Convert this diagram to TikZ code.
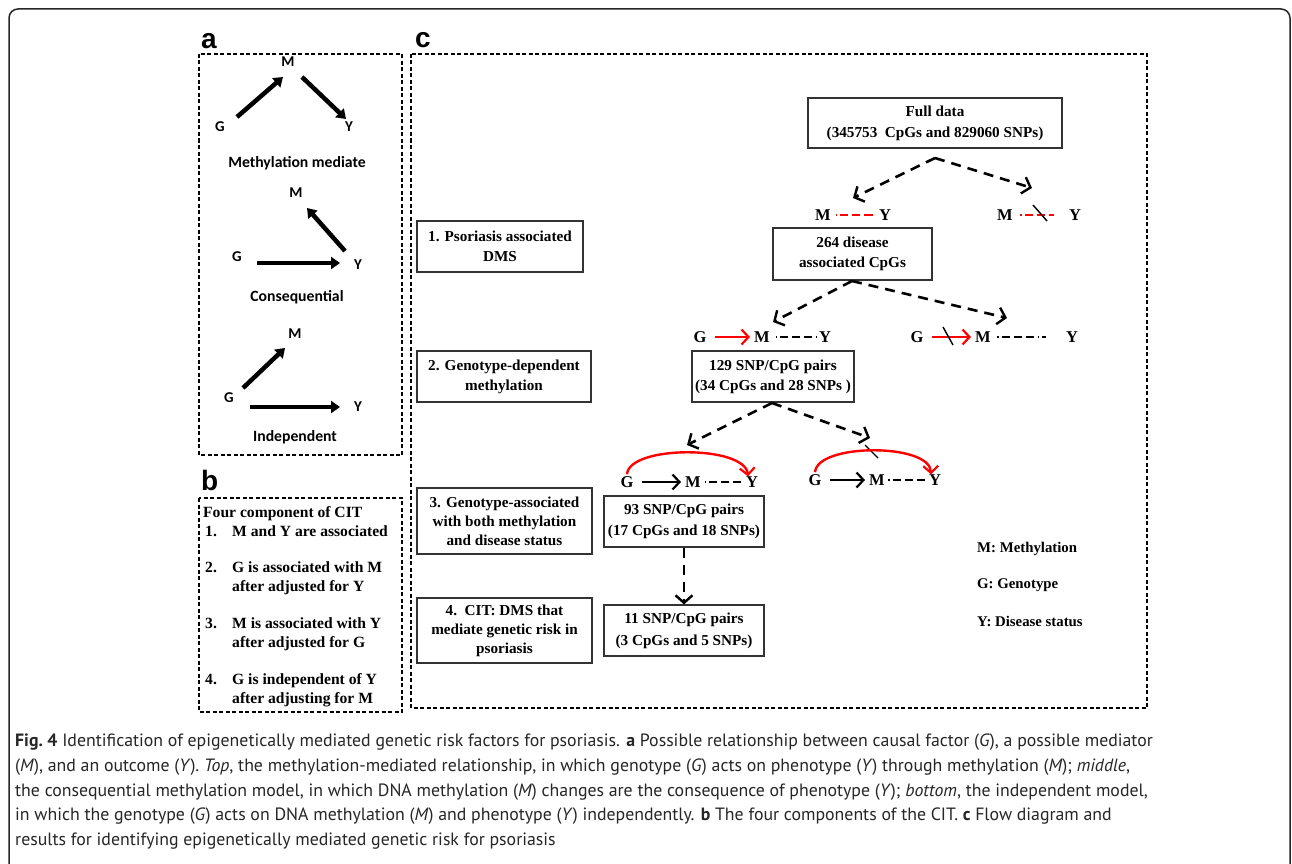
\documentclass[tikz,border=0pt]{standalone}
\usepackage{fontspec}
\setmainfont{Liberation Serif}
\newfontfamily\calib{Carlito}
\newfontfamily\capfont{PT Sans}
\newfontfamily\labfont{Liberation Sans}
\usetikzlibrary{arrows.meta,calc}
\begin{document}
\begin{tikzpicture}[x=1pt,y=-1pt,
  panelbox/.style={draw=black, line width=1.3pt, dash pattern=on 4pt off 2.5pt},
  fbox/.style={draw=black!80, line width=1.2pt, rectangle, inner sep=0pt, align=center,
    font=\bfseries\fontsize{15.2}{20}\selectfont},
  lab/.style={font=\labfont\bfseries\fontsize{28}{28}\selectfont, anchor=base west, inner sep=0pt},
  alet/.style={font=\calib\bfseries\fontsize{15}{16}\selectfont, inner sep=0pt},
  atxt/.style={font=\calib\bfseries\fontsize{15.7}{16}\selectfont, inner sep=0pt},
  thickarr/.style={line width=4.5pt, -{Triangle[length=9pt,width=12pt]}, shorten >=0pt},
  cl/.style={font=\bfseries\fontsize{16.5}{18}\selectfont, inner sep=0pt},
  flowarr/.style={line width=2.6pt, dash pattern=on 10pt off 7pt, -{Straight Barb[length=7.5pt,width=17pt,line width=2.4pt]}},
  redarr/.style={red, line width=2.4pt, -{Straight Barb[length=7pt,width=15pt,line width=2.2pt]}},
  blkarr/.style={black, line width=2.4pt, -{Straight Barb[length=7pt,width=15pt,line width=2.2pt]}},
  reddash/.style={red, line width=2.2pt, dash pattern=on 1.5pt off 3pt on 8pt off 4pt on 8pt off 4pt on 8pt off 4pt},
  blkdash/.style={black, line width=2.2pt, dash pattern=on 1.5pt off 3pt on 8pt off 4pt on 8pt off 4pt on 8pt off 4pt},
  slash/.style={black, line width=1.4pt},
  btxt/.style={font=\bfseries\fontsize{15.6}{18}\selectfont, anchor=base west, inner sep=0pt},
  legtxt/.style={font=\bfseries\fontsize{14.8}{18}\selectfont, anchor=base west, inner sep=0pt},
  captxt/.style={font=\capfont\fontsize{17.8}{24.7}\selectfont, anchor=north west, inner sep=0pt, align=left, text=black!85}
]
\useasboundingbox (0,0) rectangle (1292,864);
\clip (0,0) rectangle (1292,864);
\fill[white] (0,0) rectangle (1292,864);
% outer frame
\draw[line width=1.5pt, black!85, rounded corners=9pt] (9,9) rectangle (1290,920);

% ---------------- panel a ----------------
\node[lab] (la) at (201,49) {a};
\draw[panelbox] (199,54) rectangle (402,455);
\node[alet] (aM1) at (288,62) {M};
\node[alet] (aG1) at (220,127) {G};
\node[alet] (aY1) at (349,127) {Y};
\coordinate (aG1e) at (237,117); \coordinate (aM1s) at (283,77);
\coordinate (aM1e) at (302,77); \coordinate (aY1s) at (346,119);
\draw[thickarr] (aG1e) -- (aM1s);
\draw[thickarr] (aM1e) -- (aY1s);
\node[atxt] (at1) at (297,163) {Methylation mediate};

\node[alet] (aM2) at (296,193) {M};
\node[alet] (aG2) at (237,257) {G};
\node[alet] (aY2) at (358,265) {Y};
\coordinate (aY2e) at (345,251); \coordinate (aM2s) at (307,208);
\coordinate (aG2e) at (257,263); \coordinate (aY2s) at (340,263);
\draw[thickarr] (aY2e) -- (aM2s);
\draw[thickarr] (aG2e) -- (aY2s);
\node[atxt] (at2) at (297,297) {Consequential};

\node[alet] (aM3) at (295,334) {M};
\node[alet] (aG3) at (229,398) {G};
\node[alet] (aY3) at (358,407) {Y};
\coordinate (aG3e) at (243,388); \coordinate (aM3s) at (285,348);
\coordinate (aG3f) at (250,407); \coordinate (aY3s) at (340,407);
\draw[thickarr] (aG3e) -- (aM3s);
\draw[thickarr] (aG3f) -- (aY3s);
\node[atxt] (at3) at (295,437) {Independent};

% ---------------- panel b ----------------
\node[lab] (lb) at (201,490) {b};
\draw[panelbox] (199,498) rectangle (402,712);
\node[btxt] (b0) at (203,517) {Four component of CIT};
\node[btxt] (b1n) at (205,536) {1.};
\node[btxt] (b1) at (232,536) {M and Y are associated};
\node[btxt] (b2n) at (205,572) {2.};
\node[btxt] (b2) at (232,572) {G is associated with M};
\node[btxt] (b2b) at (232,591) {after adjusted for Y};
\node[btxt] (b3n) at (205,628) {3.};
\node[btxt] (b3) at (232,628) {M is associated with Y};
\node[btxt] (b3b) at (232,647) {after adjusted for G};
\node[btxt] (b4n) at (205,684) {4.};
\node[btxt] (b4) at (232,684) {G is independent of Y};
\node[btxt] (b4b) at (232,703) {after adjusting for M};

% ---------------- panel c ----------------
\node[lab] (lc) at (415,48) {c};
\draw[panelbox] (411,54) rectangle (1147,708);

\node[fbox, minimum width=166pt, minimum height=51pt] (s1) at (500,246.5) {1. Psoriasis associated\\DMS};
\node[fbox, minimum width=174pt, minimum height=51pt] (s2) at (504,376.5) {2. Genotype-dependent\\methylation};
\node[fbox, minimum width=175pt, minimum height=66pt, font=\bfseries\fontsize{15.2}{19}\selectfont] (s3) at (504.5,521) {3. Genotype-associated\\with both methylation\\and disease status};
\node[fbox, minimum width=175pt, minimum height=65pt, font=\bfseries\fontsize{15.2}{19}\selectfont] (s4) at (504.5,630.5) {4.\ \ CIT: DMS that\\mediate genetic risk in\\psoriasis};

\node[fbox, minimum width=254pt, minimum height=50pt, font=\bfseries\fontsize{15.2}{21}\selectfont] (fd) at (935,123) {Full data\\(345753\ \ CpGs and 829060 SNPs)};
\node[fbox, minimum width=159pt, minimum height=52pt] (d264) at (852.5,254) {264 disease\\associated CpGs};
\node[fbox, minimum width=162pt, minimum height=51pt] (p129) at (773,376.5) {129 SNP/CpG pairs\\(34 CpGs and 28 SNPs )};
\node[fbox, minimum width=160pt, minimum height=51pt, font=\bfseries\fontsize{15.2}{21}\selectfont] (p93) at (684,521.5) {93 SNP/CpG pairs\\(17 CpGs and 18 SNPs)};
\node[fbox, minimum width=160pt, minimum height=51pt, font=\bfseries\fontsize{15.2}{22}\selectfont] (p11) at (684,630.5) {11 SNP/CpG pairs\\(3 CpGs and 5 SNPs)};

% level 1
\coordinate (fdA) at (935,158);
\coordinate (l1L) at (853,198);
\coordinate (l1R) at (1032,188);
\draw[flowarr] (fdA) -- (l1L);
\draw[flowarr] (fdA) -- (l1R);
\node[cl] (M1) at (823,215) {M};
\node[cl] (Y1) at (885,215) {Y};
\draw[reddash] ($(M1.east)+(5,0)$) -- ($(Y1.west)+(-6,0)$);
\node[cl] (M1r) at (1005,215) {M};
\node[cl] (Y1r) at (1075,215) {Y};
\coordinate (r1a) at (1020,215); \coordinate (r1b) at (1054,215);
\draw[reddash] (r1a) -- (r1b);
\coordinate (s1a) at (1033,205); \coordinate (s1b) at (1047,221);
\draw[slash] (s1a) -- (s1b);

% level 2
\coordinate (dA) at (852,281);
\coordinate (l2L) at (773,322);
\coordinate (l2R) at (1007,318);
\draw[flowarr] (dA) -- (l2L);
\draw[flowarr] (dA) -- (l2R);
\node[cl] (G2) at (700,337) {G};
\node[cl] (M2) at (762,337) {M};
\node[cl] (Y2) at (825,337) {Y};
\draw[redarr] ($(G2.east)+(8,0)$) -- ($(M2.west)+(-4,0)$);
\draw[blkdash] ($(M2.east)+(6,0)$) -- ($(Y2.west)+(-2,0)$);
\node[cl] (G2r) at (917,337) {G};
\node[cl] (M2r) at (983,337) {M};
\node[cl] (Y2r) at (1072,337) {Y};
\draw[redarr] ($(G2r.east)+(8,0)$) -- ($(M2r.west)+(-4,0)$);
\coordinate (s2a) at (943,327); \coordinate (s2b) at (953,345);
\draw[slash] (s2a) -- (s2b);
\draw[blkdash] ($(M2r.east)+(6,0)$) -- ($(Y2r.west)+(-20,0)$);

% level 3
\coordinate (pA) at (772,403);
\coordinate (l3L) at (687,445);
\coordinate (l3R) at (870,438);
\draw[flowarr] (pA) -- (l3L);
\draw[flowarr] (pA) -- (l3R);
\coordinate (s3a) at (865,445); \coordinate (s3b) at (878,458);
\draw[slash] (s3a) -- (s3b);
\node[cl] (G3) at (627,482) {G};
\node[cl] (M3) at (693,482) {M};
\node[cl] (Y3) at (752,482) {Y};
\draw[blkarr] ($(G3.east)+(8,0)$) -- ($(M3.west)+(-4,0)$);
\draw[blkdash] ($(M3.east)+(4,0)$) -- ($(Y3.west)+(-1,0)$);
\draw[redarr] ($(G3.north)+(0,-2)$) .. controls (629,445) and (745,445) .. ($(Y3.north)+(-4,0)$);
\node[cl] (G3r) at (815,480) {G};
\node[cl] (M3r) at (877,480) {M};
\node[cl] (Y3r) at (935,480) {Y};
\draw[blkarr] ($(G3r.east)+(8,0)$) -- ($(M3r.west)+(-4,0)$);
\draw[blkdash] ($(M3r.east)+(3,0)$) -- ($(Y3r.west)+(-1,0)$);
\draw[redarr] ($(G3r.north)+(0,-2)$) .. controls (817,443) and (930,443) .. ($(Y3r.north)+(-4,0)$);

% level 4
\draw[flowarr] (p93.south) -- (p11.north);

% legend
\node[legtxt] (lg1) at (977,552) {M: Methylation};
\node[legtxt] (lg2) at (977,588) {G: Genotype};
\node[legtxt] (lg3) at (977,626) {Y: Disease status};

% caption
\node[captxt] (cap) at (15,734) {{\bfseries Fig.~4} Identification of epigenetically mediated genetic risk factors for psoriasis. {\bfseries a} Possible relationship between causal factor (\textit{G}), a possible mediator\\
(\textit{M}), and an outcome (\textit{Y}). \textit{Top}, the methylation-mediated relationship, in which genotype (\textit{G}) acts on phenotype (\textit{Y}) through methylation (\textit{M}); \textit{middle},\\
the consequential methylation model, in which DNA methylation (\textit{M}) changes are the consequence of phenotype (\textit{Y}); \textit{bottom}, the independent model,\\
in which the genotype (\textit{G}) acts on DNA methylation (\textit{M}) and phenotype (\textit{Y}) independently. {\bfseries b} The four components of the CIT. {\bfseries c} Flow diagram and\\
results for identifying epigenetically mediated genetic risk for psoriasis};
\end{tikzpicture}
\end{document}
